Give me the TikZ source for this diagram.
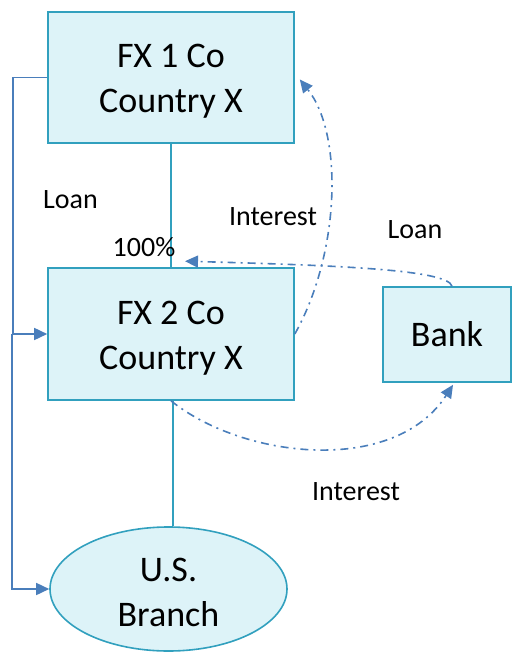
\documentclass[tikz,border=0pt]{standalone}
\usepackage{fontspec}
\setmainfont{Carlito}
\usetikzlibrary{arrows.meta,shapes.geometric}

\definecolor{boxedge}{HTML}{31A0BE}
\definecolor{boxfill}{HTML}{DDF3F8}
\definecolor{flowblue}{HTML}{4A7EBB}
\newcommand{\toproom}{\rule{0pt}{31pt}}

\begin{document}
\begin{tikzpicture}[x=1pt,y=-1pt,
	entity/.style={draw=boxedge,fill=boxfill,line width=1.6pt,inner sep=0pt,align=center,
		font=\fontsize{36}{45}\selectfont},
	owner/.style={draw=boxedge,line width=1.6pt},
	loanline/.style={draw=flowblue,line width=1.6pt,-{Triangle[length=13pt,width=12pt]}},
	flowline/.style={draw=flowblue,line width=1.6pt,dash pattern=on 8pt off 5pt on 2pt off 5pt,
		-{Triangle[length=13pt,width=12pt]}},
	tag/.style={anchor=base,font=\fontsize{28}{34}\selectfont}]
						\useasboundingbox (0,0) rectangle (512,652);
						
						\node[entity,minimum width=246pt,minimum height=131pt] (fxone) at (171,77.5) {\toproom FX 1 Co\\Country X};
						\node[entity,minimum width=246pt,minimum height=132pt] (fxtwo) at (171,334) {\toproom FX 2 Co\\Country X};
						\node[entity,minimum width=128pt,minimum height=95pt] (bank) at (447,334.5) {Bank};
						\node[entity,ellipse,minimum width=237pt,minimum height=124pt] (branch) at (168.5,589) {\toproom U.S.\\Branch};
						
						\draw[owner] (fxone.south) -- (fxtwo.north);
						\draw[owner] ([xshift=2pt]fxtwo.south) -- ([xshift=2pt]fxtwo.south |- branch.north);
						
						\coordinate (split) at (12,334);
						\draw[loanline] (fxone.west) -- ++(-34,0) |- (fxtwo.west);
						\draw[loanline] (split) |- (branch.west);
						
						\draw[flowline] (fxtwo.east) .. controls +(45,-80) and +(44,55) .. ([shift={(5,2)}]fxone.east);
						\draw[flowline] ([xshift=5pt]bank.north) .. controls +(-4,-17) and +(145,4) .. ([shift={(14,-6)}]fxtwo.north);
						\draw[flowline] (fxtwo.south) .. controls +(72,58) and +(-59,91) .. ([shift={(6,2)}]bank.south);
						
						\node[tag] (loanleft) at (70.5,208) {Loan};
						\node[tag] (share) at (144,256) {100\%};
						\node[tag] (intup) at (273,225) {Interest};
						\node[tag] (loanright) at (415,238) {Loan};
						\node[tag] (intdown) at (356,500) {Interest};
					\end{tikzpicture}
\end{document}
